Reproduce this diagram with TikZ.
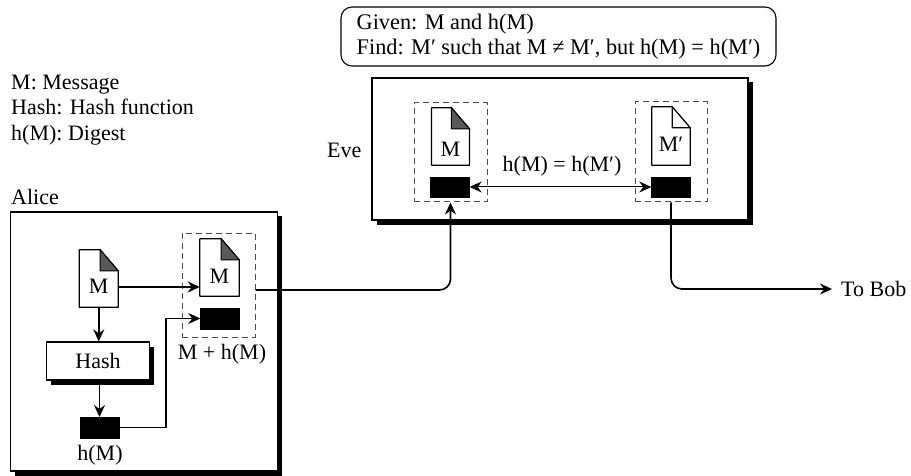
\documentclass[tikz,border=0pt]{standalone}
\usepackage{fontspec}
\setmainfont{Liberation Serif}
\usetikzlibrary{arrows.meta,calc,shadows}
\newcommand{\txtfont}{\fontsize{22}{25.3}\selectfont}
\newcommand{\givenfont}{\fontsize{22.3}{25.3}\selectfont}
\tikzset{
  panel/.style={draw=black,line width=1.1pt,fill=white,inner sep=0pt,
    drop shadow={shadow xshift=4.5pt,shadow yshift=-4.5pt,fill=black,opacity=1}},
  groupbox/.style={draw=black!70,dashed,dash pattern=on 6pt off 4pt,line width=1pt,inner sep=0pt},
  digestbox/.style={fill=black,draw=black,inner sep=0pt,minimum width=39pt,minimum height=20.5pt},
  docbox/.style={inner sep=0pt,font=\txtfont},
  docline/.style={draw=black,line width=1.2pt,fill=white,line join=round},
  foldfilled/.style={draw=black,line width=1pt,fill=black!65},
  foldplain/.style={draw=black,line width=1.1pt,fill=white},
  conn/.style={draw=black,line width=1.6pt,-{Stealth[length=12pt,width=11pt]}},
  label/.style={inner sep=0pt,font=\txtfont},
}
\newcommand{\docfile}[8]{%
  \node[docbox,minimum width=#4pt,minimum height=#5pt] (#1) at (#2,#3) {\raisebox{-#8pt}[15pt][0pt]{#6}};
  \begin{pgfonlayer}{background}
  \draw[docline] (#1.north west) -- ($(#1.north east)+(-18,0)$) -- ($(#1.north east)+(0,21)$) -- (#1.south east) -- (#1.south west) -- cycle;
  \draw[#7] ($(#1.north east)+(-18,0)$) -- ($(#1.north east)+(0,21)$) -- ($(#1.north east)+(-18,21)$) -- cycle;
  \end{pgfonlayer}%
}
\pgfdeclarelayer{background}
\pgfdeclarelayer{panels}
\pgfsetlayers{panels,background,main}
\begin{document}
\begin{tikzpicture}[x=1pt,y=-1pt]
\useasboundingbox (0,0) rectangle (911,476);
% legends
\node[label,anchor=west,align=left] (legend) at (11,110) {M: Message\\Hash: Hash function\\h(M): Digest};
\node[label,anchor=west] (alicelabel) at (11,196.5) {Alice};
\node[label,anchor=west] (evelabel) at (327,150) {Eve};
\node[draw=black,line width=1.1pt,rounded corners=11pt,minimum width=435pt,minimum height=59pt,
  align=left,inner sep=0pt,font=\givenfont] (given) at (558.5,36.5)
  {Given: M and h(M)\\Find: M′ such that M ≠ M′, but h(M) = h(M′)};
% panels
\begin{pgfonlayer}{panels}
\node[panel,minimum width=267pt,minimum height=259pt] (alice) at (144,341.5) {};
\node[panel,minimum width=376pt,minimum height=142pt] (eve) at (560,149) {};
\end{pgfonlayer}
% Alice
\docfile{msg}{98.75}{278.5}{38.5}{57}{M}{foldfilled}{7}
\docfile{msgout}{219.5}{267.5}{39}{57}{M}{foldfilled}{9}
\node[digestbox] (dout) at (220,318.5) {};
\node[groupbox,minimum width=73pt,minimum height=104pt] (agroup) at (218.5,285) {};
\node[label] (mh) at (222,354) {M + h(M)};
\node[panel,draw=black,minimum width=103pt,minimum height=38pt,font=\txtfont] (hash) at (98,361) {Hash};
\node[digestbox] (digest) at (99.5,427.5) {};
\node[label] (hm) at (100,455) {h(M)};
% Eve
\docfile{evem}{450.5}{136.5}{37.5}{57}{M}{foldfilled}{13}
\docfile{evep}{671}{136}{38}{58}{M′}{foldplain}{8}
\node[digestbox] (evemd) at (450,187) {};
\node[digestbox] (evepd) at (671,187) {};
\node[groupbox,minimum width=73pt,minimum height=99pt] (egroup) at (450.5,152.5) {};
\node[groupbox,minimum width=72pt,minimum height=100pt] (pgroup) at (671,152) {};
\node[label] (eq) at (562,166) {h(M) = h(M′)};
\node[label,anchor=west] (bob) at (841,289) {To Bob};
% coordinates for connector levels
\coordinate (lvlA) at (0,287);
\coordinate (turn) at (166,380);
\coordinate (lvlB) at (0,290);
% connectors
\draw[conn] (msg.east |- lvlA) -- (msgout.west |- lvlA);
\draw[conn] (msg.south) -- (hash.north -| msg.south);
\draw[conn] (hash.south -| digest.north) -- (digest.north);
\draw[conn] (digest.east) -- (turn |- digest.east) -- (turn |- dout.west) -- (dout.west);
\draw[conn,rounded corners=11pt] (agroup.east |- lvlB) -- (egroup.south |- lvlB) -- (egroup.south);
\draw[conn,{Stealth[length=12pt,width=11pt]}-{Stealth[length=12pt,width=11pt]},line width=1pt] (evemd.east) -- (evepd.west);
\draw[conn,rounded corners=11pt,shorten >=9pt] (pgroup.south) -- (pgroup.south |- bob.west) -- (bob.west);
\end{tikzpicture}
\end{document}
